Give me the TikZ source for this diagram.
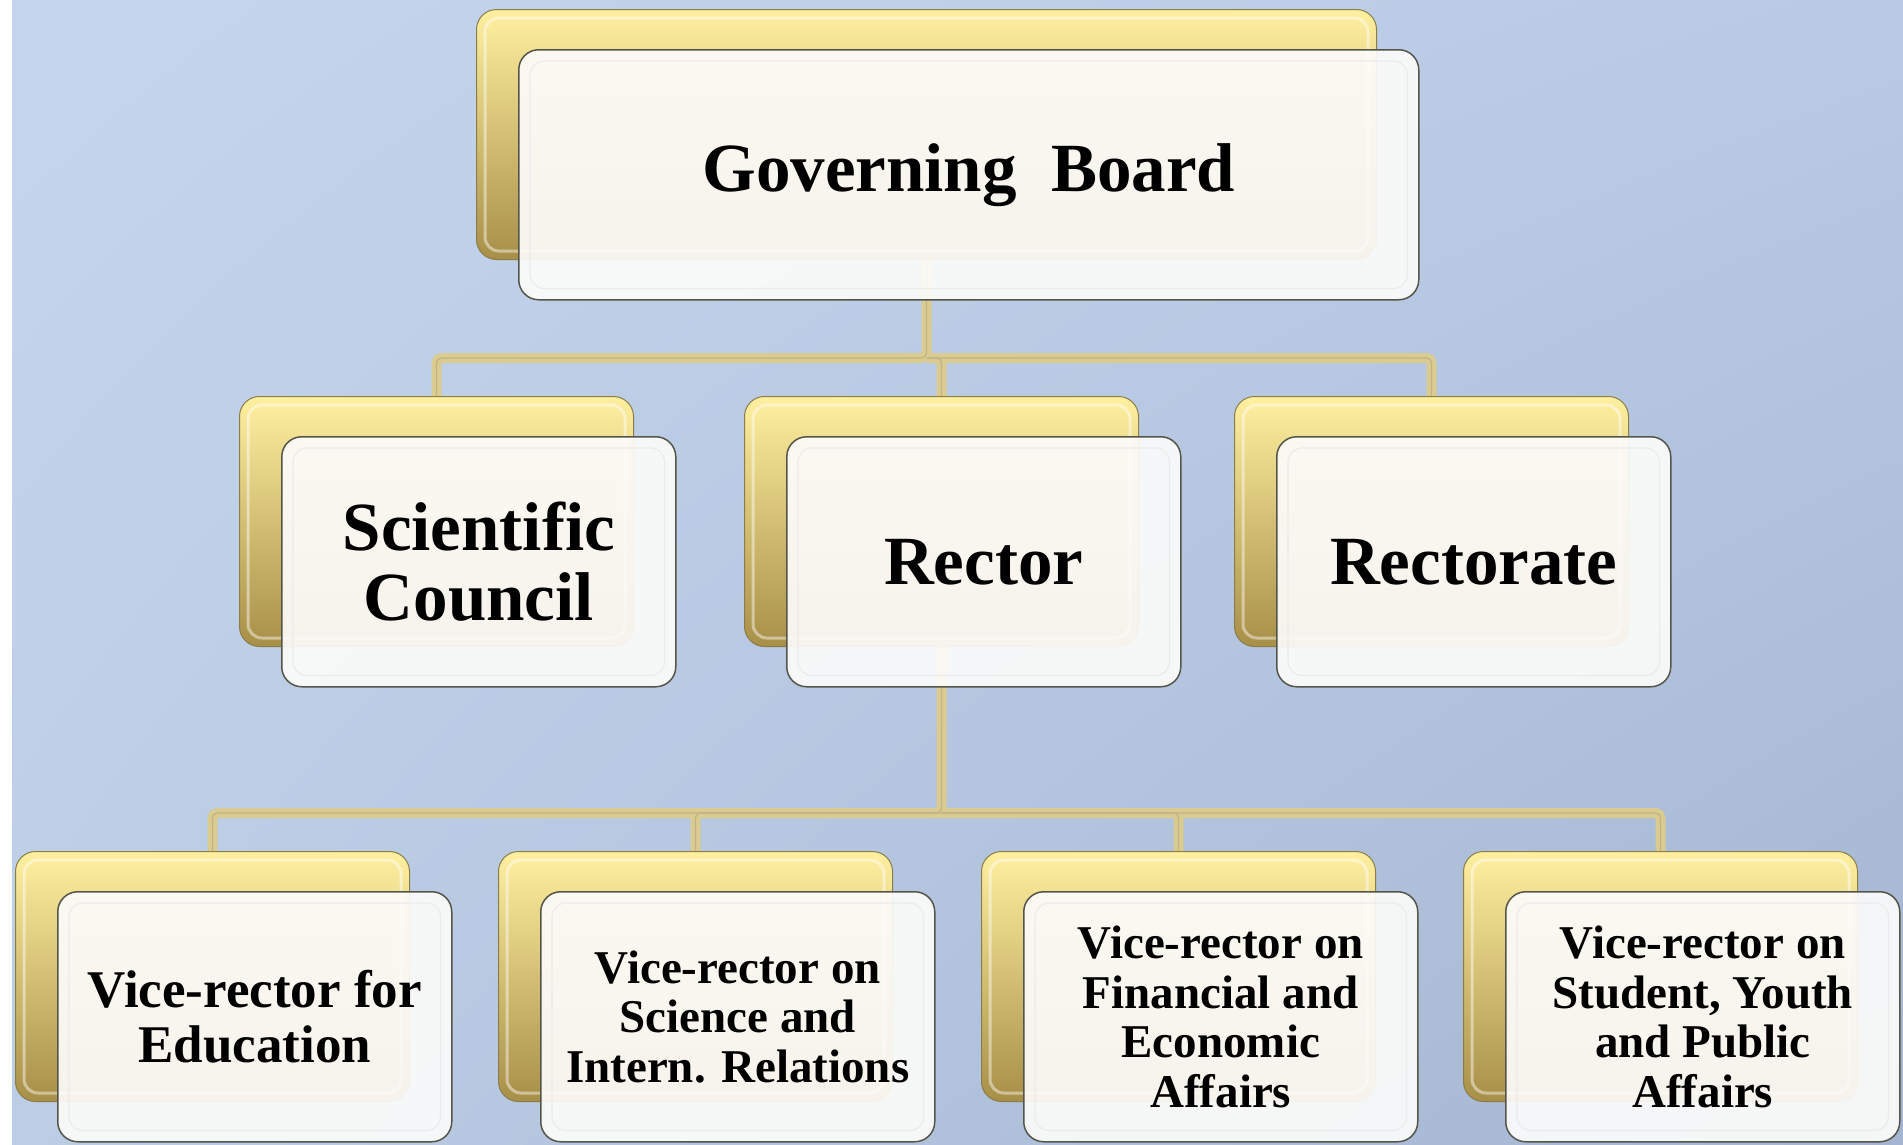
\documentclass[tikz,border=0pt]{standalone}
\usepackage{fontspec}
\setmainfont{Liberation Serif}
\usetikzlibrary{calc,shadings}
\pgfdeclarelayer{bgl}
\pgfdeclarelayer{connl}
\pgfsetlayers{bgl,connl,main}
\definecolor{bgUL}{HTML}{C5D5ED}
\definecolor{bgUR}{HTML}{B8CAE4}
\definecolor{bgLL}{HTML}{BCCDE6}
\definecolor{bgLR}{HTML}{A4B5D1}
\definecolor{goldtop}{HTML}{FFF0A0}
\definecolor{goldbot}{HTML}{A88F48}
\definecolor{goldedge}{HTML}{8C7C48}
\definecolor{wfill}{HTML}{FCFCFA}
\definecolor{wedge}{HTML}{55554A}
\definecolor{connA}{HTML}{DACB90}
\definecolor{connB}{HTML}{C2B585}
\newcommand\fBig{\fontsize{69}{70}\selectfont\bfseries}
\newcommand\fMid{\fontsize{53}{55}\selectfont\bfseries}
\newcommand\fSmall{\fontsize{47}{49.5}\selectfont\bfseries}
\tikzset{
  goldbox/.style={rounded corners=20pt, minimum height=250pt, anchor=north west,
    draw=goldedge, line width=1pt, top color=goldtop, bottom color=goldbot, inner sep=0pt},
  goldhl/.style={draw=white, draw opacity=0.45, line width=3pt, rounded corners=14pt},
  whitebox/.style={rounded corners=20pt, minimum height=250pt, anchor=north west,
    draw=wedge, line width=1.5pt, fill=wfill, fill opacity=0.92, text opacity=1,
    draw opacity=1, align=center, inner sep=0pt, text=black},
  whitehl/.style={draw=black!8, line width=1.2pt, rounded corners=14pt},
  conn/.style={draw=connA, line width=10pt, rounded corners=5pt},
  connmid/.style={draw=connB, line width=1.3pt, rounded corners=5pt}
}
\newcommand\OrgBox[6]{%
  \node[goldbox, minimum width=#4] (#1G) at (#2,#3) {};
  \draw[goldhl] ([shift={(9,9)}]#1G.north west) rectangle ([shift={(-9,-9)}]#1G.south east);
  \node[whitebox, minimum width=#4, font=#5] (#1) at (#2+42,#3+40) {#6};
  \draw[whitehl] ([shift={(12,12)}]#1.north west) rectangle ([shift={(-12,-12)}]#1.south east);
}
\begin{document}
\begin{tikzpicture}[x=1pt,y=-1pt]
\useasboundingbox (0,0) rectangle (1903,1144);
\begin{pgfonlayer}{bgl}
  \fill[white] (0,0) rectangle (1903,1144);
  \shade[upper left=bgUL, upper right=bgUR, lower left=bgLL, lower right=bgLR] (12,0) rectangle (1903,1144);
\end{pgfonlayer}

\OrgBox{gb}{476}{9}{900}{\fBig}{Governing\hspace{0.25em} Board}
\OrgBox{sc}{239}{396}{394}{\fBig}{Scientific\\Council}
\OrgBox{rc}{744}{396}{394}{\fBig}{Rector}
\OrgBox{rt}{1234}{396}{394}{\fBig}{Rectorate}
\OrgBox{ve}{15}{851}{394}{\fMid}{Vice-rector for\\Education}
\OrgBox{vs}{498}{851}{394}{\fSmall}{Vice-rector on\\Science and\\Intern. Relations}
\OrgBox{vf}{981}{851}{394}{\fSmall}{Vice-rector on\\Financial and\\Economic\\Affairs}
\OrgBox{vy}{1463}{851}{394}{\fSmall}{Vice-rector on\\Student, Youth\\and Public\\Affairs}

\coordinate (busA) at (0,358);
\coordinate (busB) at (0,813);
\begin{pgfonlayer}{connl}
  \foreach \st in {conn,connmid}{
    \draw[\st] (gbG.south) -- (gbG.south |- busA) -| (scG.north);
    \draw[\st] (gbG.south |- busA) -| (rcG.north);
    \draw[\st] (gbG.south |- busA) -| (rtG.north);
    \draw[\st] (rcG.south) -- (rcG.south |- busB) -| (veG.north);
    \draw[\st] (rcG.south |- busB) -| (vsG.north);
    \draw[\st] (rcG.south |- busB) -| (vfG.north);
    \draw[\st] (rcG.south |- busB) -| (vyG.north);
  }
\end{pgfonlayer}
\end{tikzpicture}
\end{document}
